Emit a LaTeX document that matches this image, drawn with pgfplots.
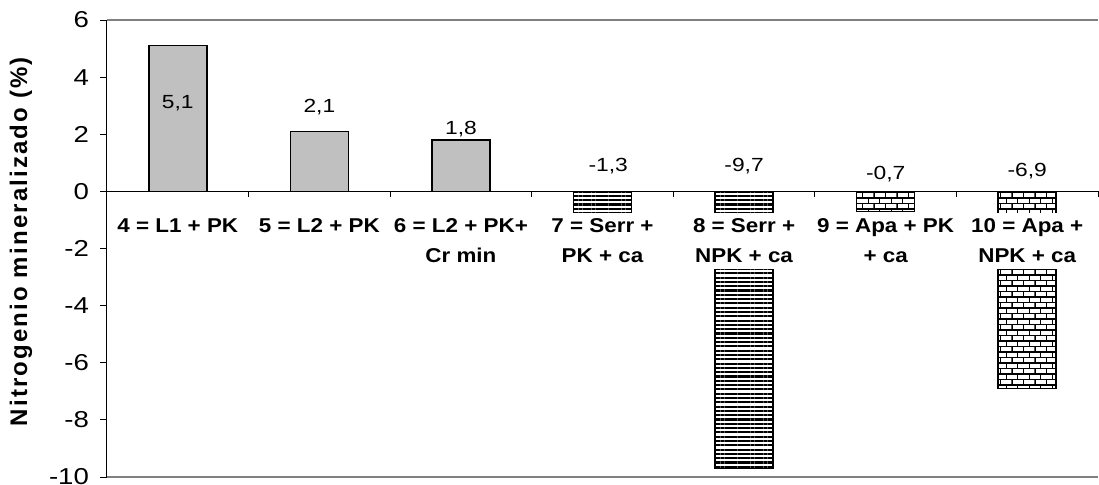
\documentclass[border=0pt]{standalone}
\usepackage{fontspec}
\setmainfont{Liberation Sans}[FakeStretch=1.2]
\newfontfamily\catfont{Liberation Sans}[FakeStretch=1.12]
\newfontfamily\ylabfont{Liberation Sans}[LetterSpace=9]
\usepackage{pgfplots}
\pgfplotsset{compat=1.18}
\usetikzlibrary{patterns,patterns.meta}

% brick wall fill for the "Apa" treatments
\pgfdeclarepatternformonly{brickwall}{\pgfqpoint{-0.3pt}{-0.3pt}}{\pgfqpoint{6.05pt}{5.8pt}}{\pgfqpoint{5.75pt}{5.5pt}}{%
  \pgfsetlinewidth{0.55pt}%
  \pgfpathmoveto{\pgfqpoint{0pt}{0pt}}\pgfpathlineto{\pgfqpoint{5.75pt}{0pt}}%
  \pgfpathmoveto{\pgfqpoint{0pt}{2.75pt}}\pgfpathlineto{\pgfqpoint{5.75pt}{2.75pt}}%
  \pgfpathmoveto{\pgfqpoint{0pt}{0pt}}\pgfpathlineto{\pgfqpoint{0pt}{2.75pt}}%
  \pgfpathmoveto{\pgfqpoint{2.875pt}{2.75pt}}\pgfpathlineto{\pgfqpoint{2.875pt}{5.5pt}}%
  \pgfusepath{stroke}}

\definecolor{barGray}{RGB}{192,192,192}
\definecolor{frameGray}{RGB}{128,128,128}

\begin{document}
\begin{tikzpicture}
\begin{axis}[
  at={(0,0)}, anchor=south west,
  scale only axis,
  width=495.5pt, height=228.5pt,
  xmin=0.5, xmax=7.5,
  ymin=-10, ymax=6,
  axis x line*=middle,
  axis y line*=left,
  axis line style={black, line width=0.5pt},
  axis on top,
  ytick={-10,-8,...,6},
  tick align=outside,
  major tick length=3.5pt,
  ytick style={black, line width=0.5pt},
  xtick={1,...,7},
  xtick style={draw=none},
  xticklabels={{4 = L1 + PK},{5 = L2 + PK},{6 = L2 + PK+\\Cr min},{7 = Serr +\\PK + ca},{8 = Serr +\\NPK + ca},{9 = Apa + PK\\+ ca},{10 = Apa +\\NPK + ca}},
  xticklabel style={font=\catfont\bfseries\fontsize{10}{15}\selectfont, align=center, fill=white, inner sep=3pt, anchor=north, yshift=-7pt},
  yticklabel style={font=\fontsize{11.5}{13}\selectfont, xshift=-2pt},
  /pgf/number format/assume math mode=true,
  ylabel={Nitrogenio mineralizado (\%)},
  every axis y label/.style={at={(rel axis cs:0,0.515)}, xshift=-43pt, rotate=90, anchor=center, font=\ylabfont\bfseries\fontsize{12}{14}\selectfont},
  clip=false,
]
% plot area frame (top and bottom edges)
\draw[frameGray, line width=0.75pt] (axis cs:0.5,6) -- (axis cs:7.5,6);
\draw[frameGray, line width=0.75pt] (axis cs:0.5,-10) -- (axis cs:7.5,-10);

% mineral N per treatment
\addplot[ybar, bar width=0.41, fill=barGray, draw=black, line width=0.75pt]
  coordinates {(1,5.1) (2,2.1) (3,1.8)};
\addplot[ybar, bar width=0.41, draw=black, line width=0.75pt,
  pattern={Lines[angle=0, distance=2.15pt, line width=1.05pt]}]
  coordinates {(4,-1.3) (5,-9.7)};
\addplot[ybar, bar width=0.41, draw=black, line width=0.75pt, pattern=brickwall]
  coordinates {(6,-0.7) (7,-6.9)};

% category separators below the zero line
\pgfplotsinvokeforeach{1.5,2.5,3.5,4.5,5.5,6.5,7.5}{
  \draw[black, line width=0.5pt] (axis cs:#1,0) -- ([yshift=-3pt]axis cs:#1,0);
}

% value labels
\node[font=\fontsize{9.5}{11}\selectfont] at (axis cs:1,3.08) {5,1};
\node[font=\fontsize{9.5}{11}\selectfont] at (axis cs:2,2.94) {2,1};
\node[font=\fontsize{9.5}{11}\selectfont] at (axis cs:3,2.17) {1,8};
\node[font=\fontsize{9.5}{11}\selectfont] at (axis cs:4.04,0.88) {-1,3};
\node[font=\fontsize{9.5}{11}\selectfont] at (axis cs:5,0.88) {-9,7};
\node[font=\fontsize{9.5}{11}\selectfont] at (axis cs:6,0.6) {-0,7};
\node[font=\fontsize{9.5}{11}\selectfont] at (axis cs:7,0.7) {-6,9};
\end{axis}
\pgfresetboundingbox
\path[use as bounding box] (-53.5pt,-3.5pt) rectangle (496pt,238.5pt);
\end{tikzpicture}
\end{document}
